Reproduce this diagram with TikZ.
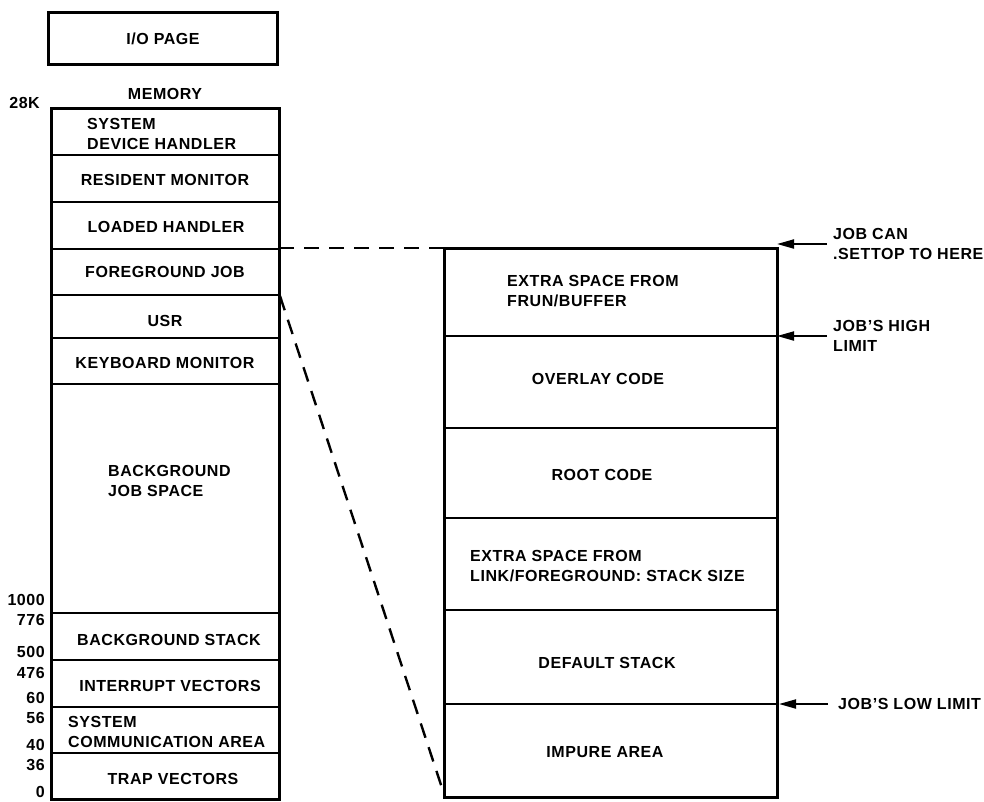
\documentclass[tikz,border=0pt]{standalone}
\usepackage{fontspec}
\setmainfont{Liberation Sans}[LetterSpace=3.5]
\usetikzlibrary{arrows.meta}

\tikzset{
  box/.style={line width=3pt},
  divider/.style={line width=2.4pt},
  lbl/.style={font=\fontsize{16}{20}\selectfont\bfseries, inner sep=0pt},
  lbll/.style={lbl, align=left, anchor=west},
  num/.style={lbl, anchor=east},
  ptr/.style={line width=2pt, -{Triangle[length=17pt,width=9pt]}},
  link/.style={line width=2.4pt, dash pattern=on 15pt off 10pt},
}

\begin{document}
\begin{tikzpicture}[x=1pt,y=-1pt]
\useasboundingbox (0,0) rectangle (984,801);

% i/o page
\draw[box] (48,12) rectangle (277,64);
\node[lbl] (iopage) at (163,39) {I/O PAGE};

% memory column
\node[lbl] (memory) at (165,94) {MEMORY};
\draw[box] (51,108) rectangle (279,799);
\foreach \y in {155,202,249,295,338,384,613,660,707,753}
{
  \draw[divider] (51,\y) -- (279,\y);
}

\node[lbll] (sysdev) at (87,134) {SYSTEM\\DEVICE HANDLER};
\node[lbl] (resmon) at (165,180) {RESIDENT MONITOR};
\node[lbl] (loaded) at (166,227) {LOADED HANDLER};
\node[lbl] (fgjob) at (165,272) {FOREGROUND JOB};
\node[lbl] (usr) at (165,321) {USR};
\node[lbl] (kmon) at (165,363) {KEYBOARD MONITOR};
\node[lbll] (bgspace) at (108,481) {BACKGROUND\\JOB SPACE};
\node[lbl] (bgstack) at (169,640) {BACKGROUND STACK};
\node[lbl] (intvec) at (170,686) {INTERRUPT VECTORS};
\node[lbll] (syscom) at (68,732) {SYSTEM\\COMMUNICATION AREA};
\node[lbl] (trapvec) at (173,779) {TRAP VECTORS};

% addresses
\node[num] (a28k) at (40,103) {28K};
\foreach \v/\y in {1000/600,776/620,500/652,476/673,60/698,56/718,40/745,36/765,0/792}
{
  \node[num] (a\v) at (45,\y) {\v};
}

% foreground job detail
\draw[box] (444,248) rectangle (777,797);
\foreach \y in {336,428,518,610,704}
{
  \draw[divider] (444,\y) -- (777,\y);
}

\node[lbll] (frun) at (507,291) {EXTRA SPACE FROM\\FRUN/BUFFER};
\node[lbl] (overlay) at (598,379) {OVERLAY CODE};
\node[lbl] (root) at (602,475) {ROOT CODE};
\node[lbll] (stksize) at (470,566) {EXTRA SPACE FROM\\LINK/FOREGROUND: STACK SIZE};
\node[lbl] (defstack) at (607,663) {DEFAULT STACK};
\node[lbl] (impure) at (605,752) {IMPURE AREA};

% dashed links
\coordinate (fgtop) at (279,248);
\coordinate (fgbot) at (280,296);
\coordinate (jobtop) at (444,248);
\coordinate (jobbot) at (445,797);
\draw[link] (fgtop) -- (jobtop);
\draw[link] (fgbot) -- (jobbot);

% limits
\coordinate (settop) at (777,244);
\coordinate (highlim) at (777,336);
\coordinate (lowlim) at (779,704);
\node[lbll] (settoplbl) at (833,244) {JOB CAN\\.SETTOP TO HERE};
\node[lbll] (highlbl) at (833,336) {JOB'S HIGH\\LIMIT};
\node[lbll] (lowlbl) at (838,704) {JOB'S LOW LIMIT};
\draw[ptr] ([xshift=-6pt]settoplbl.west) -- (settop);
\draw[ptr] ([xshift=-6pt]highlbl.west) -- (highlim);
\draw[ptr] ([xshift=-10pt]lowlbl.west) -- (lowlim);

\end{tikzpicture}
\end{document}
